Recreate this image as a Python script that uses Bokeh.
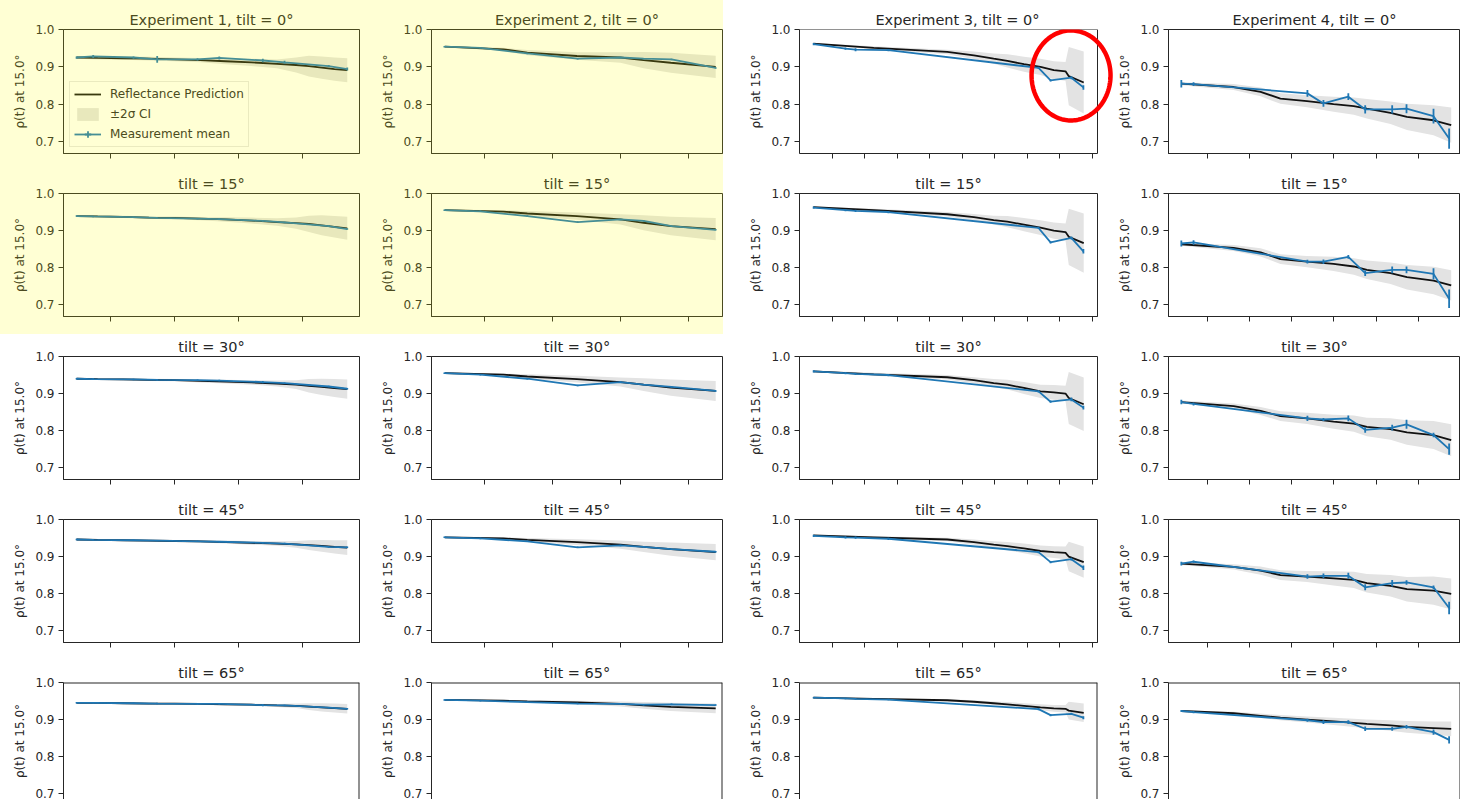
import numpy as np
from bokeh.plotting import figure
from bokeh.layouts import row, column
from bokeh.models import (ColumnDataSource, FixedTicker, Range1d, Legend, Span,
                          LegendItem, PolyAnnotation, BoxAnnotation, PrintfTickFormatter)
from bokeh.embed import file_html
from bokeh.resources import INLINE

TILTS = [0, 15, 30, 45, 65]
EXPERIMENTS = ["Experiment 1", "Experiment 2", "Experiment 3", "Experiment 4"]

# ---------------- Experiment 1 ----------------
E1_PRED_T = [0.47, 0.8, 1.2, 1.6, 2.0, 2.4, 2.8, 3.2, 3.6, 3.9, 4.1, 4.3, 4.5, 4.7]
E1_PRED = {
    0:  [0.925, 0.924, 0.923, 0.922, 0.920, 0.918, 0.915, 0.912, 0.908, 0.905, 0.902, 0.898, 0.894, 0.891],
    15: [0.939, 0.938, 0.937, 0.935, 0.934, 0.932, 0.930, 0.927, 0.923, 0.920, 0.918, 0.914, 0.910, 0.906],
    30: [0.940, 0.939, 0.938, 0.937, 0.936, 0.934, 0.932, 0.930, 0.927, 0.924, 0.921, 0.918, 0.915, 0.912],
    45: [0.946, 0.945, 0.944, 0.943, 0.942, 0.941, 0.939, 0.937, 0.935, 0.933, 0.931, 0.929, 0.926, 0.924],
    65: [0.945, 0.945, 0.944, 0.943, 0.943, 0.942, 0.941, 0.940, 0.938, 0.937, 0.935, 0.933, 0.931, 0.929],
}
E1_CI = {
    0:  [0.003, 0.004, 0.004, 0.005, 0.005, 0.006, 0.008, 0.010, 0.012, 0.020, 0.028, 0.030, 0.031, 0.032],
    15: [0.002, 0.003, 0.003, 0.003, 0.004, 0.004, 0.006, 0.008, 0.010, 0.015, 0.022, 0.027, 0.029, 0.031],
    30: [0.002, 0.002, 0.003, 0.003, 0.003, 0.004, 0.005, 0.006, 0.008, 0.012, 0.018, 0.022, 0.024, 0.026],
    45: [0.002, 0.002, 0.002, 0.003, 0.003, 0.003, 0.004, 0.005, 0.006, 0.009, 0.013, 0.016, 0.018, 0.020],
    65: [0.001, 0.001, 0.002, 0.002, 0.002, 0.002, 0.003, 0.003, 0.004, 0.006, 0.009, 0.011, 0.012, 0.013],
}
E1_MEAS_T = [0.47, 0.73, 1.36, 1.73, 2.36, 2.70, 3.38, 3.72, 4.41, 4.70]
E1_MEAS = {
    0:  [0.925, 0.928, 0.925, 0.920, 0.920, 0.924, 0.917, 0.912, 0.902, 0.894],
    15: [0.939, 0.938, 0.936, 0.934, 0.932, 0.931, 0.926, 0.922, 0.912, 0.904],
    30: [0.940, 0.939, 0.938, 0.937, 0.936, 0.935, 0.931, 0.928, 0.919, 0.913],
    45: [0.946, 0.945, 0.944, 0.943, 0.941, 0.940, 0.937, 0.935, 0.926, 0.925],
    65: [0.945, 0.945, 0.944, 0.943, 0.942, 0.942, 0.939, 0.938, 0.932, 0.929],
}
E1_ERR = {
    0:  [0.003, 0.004, 0.003, 0.009, 0.003, 0.004, 0.005, 0.004, 0.003, 0.004],
    15: [0.002, 0.002, 0.002, 0.002, 0.002, 0.002, 0.002, 0.002, 0.002, 0.002],
    30: [0.002, 0.002, 0.002, 0.002, 0.002, 0.002, 0.003, 0.002, 0.002, 0.002],
    45: [0.002, 0.002, 0.002, 0.002, 0.002, 0.002, 0.002, 0.002, 0.002, 0.002],
    65: [0.002, 0.002, 0.002, 0.002, 0.002, 0.002, 0.003, 0.002, 0.002, 0.002],
}

# ---------------- Experiment 2 ----------------
E2_PRED_T = [0.42, 1.28, 1.63, 2.36, 3.0, 3.34, 3.74, 4.40]
E2_PRED = {
    0:  [0.954, 0.947, 0.938, 0.929, 0.925, 0.918, 0.911, 0.900],
    15: [0.955, 0.951, 0.946, 0.939, 0.930, 0.921, 0.912, 0.904],
    30: [0.955, 0.951, 0.946, 0.939, 0.931, 0.924, 0.916, 0.907],
    45: [0.952, 0.949, 0.945, 0.939, 0.932, 0.926, 0.920, 0.912],
    65: [0.953, 0.951, 0.949, 0.946, 0.942, 0.938, 0.934, 0.930],
}
E2_CI = {
    0:  [0.002, 0.004, 0.007, 0.010, 0.014, 0.022, 0.027, 0.030],
    15: [0.002, 0.004, 0.007, 0.010, 0.014, 0.020, 0.025, 0.030],
    30: [0.002, 0.003, 0.006, 0.009, 0.012, 0.017, 0.022, 0.027],
    45: [0.002, 0.003, 0.005, 0.008, 0.011, 0.014, 0.018, 0.022],
    65: [0.001, 0.002, 0.003, 0.005, 0.007, 0.009, 0.011, 0.013],
}
E2_MEAS_T = [0.41, 0.94, 1.63, 2.37, 3.0, 3.34, 3.75, 4.40]
E2_MEAS = {
    0:  [0.954, 0.951, 0.936, 0.922, 0.925, 0.922, 0.920, 0.897],
    15: [0.955, 0.952, 0.939, 0.923, 0.930, 0.926, 0.912, 0.902],
    30: [0.955, 0.951, 0.940, 0.922, 0.931, 0.924, 0.918, 0.907],
    45: [0.952, 0.949, 0.941, 0.925, 0.930, 0.926, 0.920, 0.913],
    65: [0.953, 0.951, 0.947, 0.943, 0.942, 0.940, 0.941, 0.939],
}
E2_ERR = {t: [0.002] * 8 for t in TILTS}

# ---------------- Experiment 3 ----------------
E3_PRED_T = [0.41, 2.27, 4.53, 5.35, 5.96, 6.38, 6.89, 7.40, 7.81, 8.17, 8.27, 8.73]
E3_PRED = {
    0:  [0.962, 0.951, 0.940, 0.931, 0.922, 0.916, 0.907, 0.900, 0.891, 0.888, 0.875, 0.858],
    15: [0.963, 0.955, 0.944, 0.936, 0.928, 0.924, 0.916, 0.908, 0.900, 0.896, 0.883, 0.866],
    30: [0.960, 0.952, 0.944, 0.936, 0.928, 0.924, 0.915, 0.906, 0.903, 0.900, 0.888, 0.871],
    45: [0.957, 0.952, 0.946, 0.939, 0.932, 0.928, 0.922, 0.915, 0.912, 0.910, 0.900, 0.885],
    65: [0.959, 0.956, 0.952, 0.948, 0.944, 0.941, 0.937, 0.933, 0.930, 0.929, 0.924, 0.918],
}
E3_CI = {
    0:  [0.002, 0.004, 0.006, 0.010, 0.014, 0.018, 0.020, 0.022, 0.024, 0.025, 0.078, 0.083],
    15: [0.002, 0.004, 0.006, 0.009, 0.012, 0.015, 0.018, 0.020, 0.022, 0.023, 0.076, 0.080],
    30: [0.002, 0.004, 0.006, 0.008, 0.011, 0.013, 0.016, 0.018, 0.020, 0.021, 0.070, 0.072],
    45: [0.002, 0.003, 0.005, 0.007, 0.009, 0.011, 0.013, 0.015, 0.016, 0.017, 0.040, 0.042],
    65: [0.001, 0.002, 0.003, 0.004, 0.005, 0.006, 0.007, 0.008, 0.009, 0.010, 0.024, 0.025],
}
E3_MEAS_T = [0.42, 1.40, 1.71, 2.72, 7.34, 7.71, 8.35, 8.72]
E3_MEAS = {
    0:  [0.961, 0.949, 0.946, 0.945, 0.897, 0.864, 0.871, 0.845],
    15: [0.962, 0.955, 0.953, 0.950, 0.907, 0.868, 0.880, 0.844],
    30: [0.960, 0.955, 0.953, 0.950, 0.906, 0.878, 0.884, 0.862],
    45: [0.956, 0.952, 0.951, 0.948, 0.912, 0.885, 0.893, 0.870],
    65: [0.959, 0.957, 0.956, 0.954, 0.928, 0.912, 0.915, 0.905],
}
E3_ERR = {
    0:  [0.003, 0.003, 0.004, 0.003, 0.003, 0.003, 0.004, 0.006],
    15: [0.003, 0.003, 0.003, 0.003, 0.003, 0.003, 0.004, 0.006],
    30: [0.003, 0.003, 0.003, 0.003, 0.003, 0.003, 0.005, 0.005],
    45: [0.003, 0.003, 0.003, 0.003, 0.003, 0.003, 0.004, 0.006],
    65: [0.002, 0.002, 0.002, 0.002, 0.003, 0.003, 0.003, 0.004],
}

# ---------------- Experiment 4 ----------------
E4_PRED_T = [0.38, 1.62, 2.26, 2.73, 3.36, 3.99, 4.47, 4.78, 5.34, 5.73, 6.36, 6.78]
E4_PRED = {
    0:  [0.855, 0.846, 0.833, 0.815, 0.808, 0.800, 0.795, 0.788, 0.777, 0.766, 0.757, 0.744],
    15: [0.863, 0.853, 0.841, 0.823, 0.816, 0.810, 0.803, 0.794, 0.785, 0.774, 0.765, 0.752],
    30: [0.877, 0.866, 0.853, 0.839, 0.833, 0.824, 0.819, 0.810, 0.804, 0.795, 0.788, 0.774],
    45: [0.881, 0.872, 0.862, 0.850, 0.846, 0.841, 0.837, 0.828, 0.821, 0.812, 0.808, 0.799],
    65: [0.923, 0.917, 0.910, 0.905, 0.900, 0.895, 0.891, 0.888, 0.884, 0.880, 0.877, 0.875],
}
E4_CI = {
    0:  [0.004, 0.008, 0.012, 0.014, 0.016, 0.020, 0.023, 0.026, 0.030, 0.035, 0.040, 0.047],
    15: [0.004, 0.008, 0.011, 0.013, 0.015, 0.019, 0.022, 0.025, 0.029, 0.033, 0.037, 0.041],
    30: [0.004, 0.007, 0.011, 0.013, 0.015, 0.019, 0.022, 0.025, 0.029, 0.033, 0.038, 0.043],
    45: [0.004, 0.007, 0.011, 0.013, 0.015, 0.019, 0.022, 0.025, 0.029, 0.033, 0.038, 0.042],
    65: [0.002, 0.004, 0.006, 0.007, 0.008, 0.010, 0.011, 0.012, 0.014, 0.016, 0.018, 0.020],
}
E4_MEAS_T = [0.38, 0.67, 3.37, 3.75, 4.34, 4.74, 5.38, 5.72, 6.36, 6.73]
E4_MEAS = {
    0:  [0.855, 0.854, 0.829, 0.802, 0.820, 0.786, 0.786, 0.788, 0.768, 0.708],
    15: [0.865, 0.868, 0.816, 0.816, 0.829, 0.785, 0.794, 0.794, 0.783, 0.716],
    30: [0.877, 0.872, 0.833, 0.830, 0.833, 0.802, 0.808, 0.817, 0.788, 0.750],
    45: [0.881, 0.886, 0.846, 0.848, 0.848, 0.817, 0.828, 0.830, 0.817, 0.761],
    65: [0.923, 0.920, 0.898, 0.893, 0.893, 0.875, 0.875, 0.880, 0.866, 0.845],
}
E4_ERR = {
    0:  [0.010, 0.005, 0.009, 0.009, 0.009, 0.011, 0.011, 0.012, 0.020, 0.027],
    15: [0.008, 0.006, 0.005, 0.006, 0.005, 0.008, 0.009, 0.009, 0.015, 0.025],
    30: [0.006, 0.004, 0.007, 0.004, 0.008, 0.008, 0.008, 0.012, 0.006, 0.015],
    45: [0.005, 0.003, 0.006, 0.006, 0.008, 0.008, 0.009, 0.006, 0.005, 0.017],
    65: [0.003, 0.003, 0.004, 0.005, 0.005, 0.006, 0.005, 0.005, 0.007, 0.010],
}

EXP_DATA = [
    (E1_PRED_T, E1_PRED, E1_CI, E1_MEAS_T, E1_MEAS, E1_ERR),
    (E2_PRED_T, E2_PRED, E2_CI, E2_MEAS_T, E2_MEAS, E2_ERR),
    (E3_PRED_T, E3_PRED, E3_CI, E3_MEAS_T, E3_MEAS, E3_ERR),
    (E4_PRED_T, E4_PRED, E4_CI, E4_MEAS_T, E4_MEAS, E4_ERR),
]
X_TICKS = [[1, 2, 3, 4], [1, 2, 3, 4], [1, 2, 3, 4, 5, 6, 7, 8, 9], [1, 2, 3, 4, 5, 6, 7]]
Y_TICKS = [0.7, 0.8, 0.9, 1.0]

# ---------------- layout / style ----------------
X_RANGES = [(0.266, 4.891), (0.221, 4.50), (-0.015, 9.154), (0.076, 7.00)]
COL_W = [376, 347, 392, 345]
MBL = [63, 55, 76, 53]
MBR = [17, 1, 18, 0]
ROW_H = [171, 163, 163, 163, 139]
MBT = [29, 21, 21, 21, 21]
MBB = [18, 18, 18, 18, 0]
Y_RANGES = [(0.668, 1.0)] * 4 + [(0.684, 1.0)]

BLUE = "#1f77b4"
BLACK = "#111111"
TEXT = "#262626"
BAND = "#e3e3e3"
LEG_EDGE = "#cccccc"
RED = "#ff0000"
FONT = "DejaVu Sans"
HL_ALPHA = 0.17


def tint(c, on):
    if not on:
        return c
    rgb = [int(c[i:i + 2], 16) for i in (1, 3, 5)]
    y = (255, 255, 0)
    out = [round(v * (1 - HL_ALPHA) + w * HL_ALPHA) for v, w in zip(rgb, y)]
    return "#%02x%02x%02x" % tuple(out)


YEL = tint("#ffffff", True)

panels = []
for ri, tilt in enumerate(TILTS):
    figs = []
    for ci in range(4):
        hl = (ri < 2 and ci < 2)
        ring_panel = (ri == 0 and ci == 2)
        pt, pred, cib, mt, meas, err = EXP_DATA[ci]
        title = (f"{EXPERIMENTS[ci]}, tilt = {tilt}°" if ri == 0 else f"tilt = {tilt}°")

        x0, x1 = X_RANGES[ci]
        y0, y1 = Y_RANGES[ri]
        mbr = MBR[ci]
        xr_end = x1
        if ring_panel:
            # widen this frame to the figure edge so the red ring is not clipped;
            # the visible box is redrawn at the normal frame size below
            fw = COL_W[ci] - MBL[ci] - MBR[ci]
            xr_end = x0 + (x1 - x0) * (COL_W[ci] - MBL[ci]) / fw
            mbr = 0

        p = figure(width=COL_W[ci], height=ROW_H[ri], output_backend="svg",
                   toolbar_location=None, tools="",
                   x_range=Range1d(x0, xr_end), y_range=Range1d(y0, y1),
                   min_border_left=MBL[ci], min_border_right=mbr,
                   min_border_top=MBT[ri], min_border_bottom=MBB[ri])
        bg = tint("#ffffff", hl)
        p.background_fill_color = bg
        p.border_fill_color = bg
        p.outline_line_color = tint(TEXT, hl)
        p.outline_line_width = 1
        p.grid.visible = False

        p.title.text = title
        p.title.align = "center"
        p.title.text_font = FONT
        p.title.text_font_size = "14.5px"
        p.title.text_font_style = "normal"
        p.title.text_color = tint(TEXT, hl)
        p.title.standoff = 4

        yax = p.yaxis[0]
        yax.ticker = FixedTicker(ticks=Y_TICKS)
        yax.formatter = PrintfTickFormatter(format="%.1f")
        yax.axis_label = "ρ(t) at 15.0°"
        yax.axis_label_text_font = FONT
        yax.axis_label_text_font_size = "12px"
        yax.axis_label_text_font_style = "normal"
        yax.axis_label_text_color = tint(TEXT, hl)
        yax.axis_label_standoff = 5
        yax.major_label_text_font = FONT
        yax.major_label_text_font_size = "12px"
        yax.major_label_text_color = tint(TEXT, hl)
        yax.major_label_standoff = 4
        yax.major_tick_in = 0
        yax.major_tick_out = 5
        yax.minor_tick_line_color = None
        yax.major_tick_line_color = tint(TEXT, hl)
        yax.axis_line_color = tint(TEXT, hl)

        xax = p.xaxis[0]
        if ri == 4:
            xax.visible = False
        xax.ticker = FixedTicker(ticks=X_TICKS[ci])
        xax.major_label_text_font_size = "1px"
        xax.major_label_text_color = None
        xax.major_label_standoff = 0
        xax.major_tick_in = 0
        xax.major_tick_out = 5
        xax.minor_tick_line_color = None
        xax.major_tick_line_color = tint(TEXT, hl)
        xax.axis_line_color = tint(TEXT, hl)

        pa = np.array(pred[tilt])
        ca = np.array(cib[tilt])
        src_p = ColumnDataSource(dict(t=pt, y=pa, lo=pa - ca, hi=pa + ca))
        ma = np.array(meas[tilt])
        ea = np.array(err[tilt])
        src_m = ColumnDataSource(dict(t=mt, y=ma, lo=ma - ea, hi=ma + ea))

        r_band = p.varea(x="t", y1="lo", y2="hi", source=src_p,
                         fill_color=tint(BAND, hl), fill_alpha=1.0)
        r_pred = p.line(x="t", y="y", source=src_p, line_color=tint(BLACK, hl),
                        line_width=1.8)
        p.segment(x0="t", y0="lo", x1="t", y1="hi", source=src_m,
                  line_color=tint(BLUE, hl), line_width=1.8)
        r_meas = p.line(x="t", y="y", source=src_m, line_color=tint(BLUE, hl),
                        line_width=1.8)

        if ri == 0 and ci == 0:
            # zero-size markers: only their legend swatch (a "+") is visible
            r_cross = p.scatter(x="t", y="y", source=src_m, marker="cross", size=0,
                                line_color=tint(BLUE, hl), line_width=1.8)
            legend = Legend(items=[
                LegendItem(label="Reflectance Prediction", renderers=[r_pred]),
                LegendItem(label="±2σ CI", renderers=[r_band]),
                LegendItem(label="Measurement mean", renderers=[r_meas, r_cross]),
            ], location="bottom_left")
            legend.margin = 6
            legend.padding = 4
            legend.spacing = 4
            legend.glyph_width = 27
            legend.glyph_height = 16
            legend.label_height = 16
            legend.label_standoff = 9
            legend.label_text_font = FONT
            legend.label_text_font_size = "12px"
            legend.label_text_color = tint(TEXT, hl)
            legend.background_fill_color = bg
            legend.background_fill_alpha = 1.0
            legend.border_line_color = tint(LEG_EDGE, hl)
            legend.border_line_width = 1
            p.add_layout(legend)

        if ring_panel:
            p.outline_line_color = None
            xax.bounds = (x0, x1)
            p.add_layout(BoxAnnotation(left=x0, right=x1, bottom=y0, top=y1,
                                       fill_alpha=0, line_color=TEXT, line_alpha=1.0,
                                       line_width=1))
            # red ring highlighting the late-time divergence
            cx, cy, rx, ry = 8.34, 0.877, 1.215, 0.1205
            th = np.linspace(0, 2 * np.pi, 160)
            p.add_layout(PolyAnnotation(xs=list(cx + rx * np.cos(th)),
                                        ys=list(cy + ry * np.sin(th)),
                                        fill_alpha=0, line_color=RED, line_alpha=1.0,
                                        line_width=4.5))

        if ri == 4:
            # the bottom row runs off the page: no bottom edge on its box
            p.outline_line_color = None
            p.add_layout(Span(location=y1, dimension="width", line_color=TEXT, line_width=2))
            p.add_layout(Span(location=x1, dimension="height", line_color=TEXT, line_width=2))
        figs.append(p)
    panels.append(figs)

# highlighted top-left block sits on a yellow backing so no seams show
top_left = column([row(panels[0][:2], spacing=0), row(panels[1][:2], spacing=0)],
                  spacing=0, styles={"background-color": YEL})
top_right = column([row(panels[0][2:], spacing=0), row(panels[1][2:], spacing=0)],
                   spacing=0)
layout = column([row([top_left, top_right], spacing=0)] +
                [row(panels[r], spacing=0) for r in range(2, 5)], spacing=0)
open("out.html", "w").write(file_html(layout, INLINE))
